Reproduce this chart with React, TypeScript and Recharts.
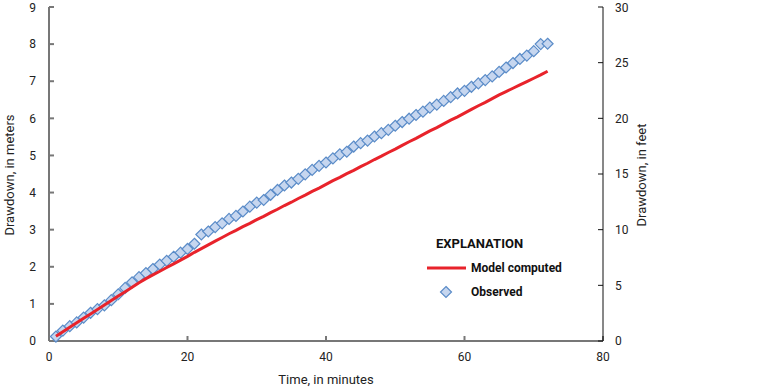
import React from 'react';
import {
  ComposedChart, Line, XAxis, YAxis, Label,
} from 'recharts';

// time, in minutes
const times = [
  1, 2, 3, 4, 5, 6, 7, 8, 9, 10, 11, 12, 13, 14, 15, 16, 17, 18,
  19, 20, 21, 22, 23, 24, 25, 26, 27, 28, 29, 30, 31, 32, 33, 34, 35, 36,
  37, 38, 39, 40, 41, 42, 43, 44, 45, 46, 47, 48, 49, 50, 51, 52, 53, 54,
  55, 56, 57, 58, 59, 60, 61, 62, 63, 64, 65, 66, 67, 68, 69, 70, 71, 72,
];

// observed drawdown, meters
const observed = [
  0.12, 0.28, 0.40, 0.50, 0.63, 0.76, 0.86, 0.96, 1.10, 1.26, 1.43, 1.58, 1.72, 1.83, 1.94, 2.06, 2.16, 2.27,
  2.38, 2.48, 2.62, 2.87, 2.95, 3.07, 3.17, 3.29, 3.37, 3.49, 3.62, 3.73, 3.80, 3.94, 4.07, 4.19, 4.27, 4.37,
  4.49, 4.61, 4.72, 4.81, 4.92, 5.03, 5.10, 5.24, 5.33, 5.40, 5.51, 5.60, 5.69, 5.80, 5.90, 5.99, 6.09, 6.18,
  6.29, 6.37, 6.47, 6.57, 6.67, 6.74, 6.85, 6.94, 7.03, 7.13, 7.25, 7.37, 7.49, 7.60, 7.69, 7.81, 8.00, 8.01,
];

// model computed drawdown, meters
const modelComputed = [
  0.13, 0.25, 0.37, 0.49, 0.61, 0.73, 0.85, 0.97, 1.09, 1.21, 1.33, 1.45, 1.57, 1.68, 1.78, 1.88, 1.98, 2.08,
  2.18, 2.28, 2.39, 2.49, 2.59, 2.69, 2.79, 2.89, 2.98, 3.08, 3.17, 3.27, 3.36, 3.46, 3.55, 3.65, 3.74, 3.84,
  3.93, 4.03, 4.12, 4.22, 4.32, 4.41, 4.51, 4.60, 4.70, 4.79, 4.89, 4.98, 5.08, 5.17, 5.27, 5.37, 5.46, 5.56,
  5.66, 5.75, 5.85, 5.95, 6.04, 6.14, 6.24, 6.34, 6.43, 6.53, 6.63, 6.72, 6.81, 6.90, 6.99, 7.08, 7.17, 7.27,
];

const xTicks = [0, 20, 40, 60, 80];
const meterTicks = [0, 1, 2, 3, 4, 5, 6, 7, 8, 9];
const feetTicks = [0, 5, 10, 15, 20, 25, 30];

const FONT = "'Liberation Sans Narrow', 'Arial Narrow', Roboto, sans-serif";
const RED = '#e8232b';
const FILL = '#c6d6ef';
const EDGE = '#5b8cc8';

const data = times.map((t, i) => ({ t, observed: observed[i], model: modelComputed[i] }));

const Diamond = (props: any) => {
  const { cx, cy, index } = props;
  if (cx == null || cy == null) return null;
  const r = 5.5;
  return (
    <polygon
      key={`d-${index}`}
      points={`${cx},${cy - r} ${cx + r},${cy} ${cx},${cy + r} ${cx - r},${cy}`}
      fill={FILL}
      stroke={EDGE}
      strokeWidth={1.2}
    />
  );
};

const textStyle: any = { fontFamily: FONT, fontSize: 13, fill: '#222' };
const tickStyle: any = { fontFamily: FONT, fontSize: 12, fill: '#222' };

const Explanation = () => (
  <div
    style={{
      position: 'absolute', left: 422, top: 236, width: 160,
      fontFamily: FONT, fontWeight: 'bold', fontSize: 12, color: '#111',
    }}
  >
    <div style={{ marginLeft: 14, marginBottom: 6, fontSize: 13 }}>EXPLANATION</div>
    <div style={{ display: 'flex', alignItems: 'center', height: 22 }}>
      <svg width={49} height={10}><line x1={5} y1={5} x2={44} y2={5} stroke={RED} strokeWidth={3} /></svg>
      <span>Model computed</span>
    </div>
    <div style={{ display: 'flex', alignItems: 'center', height: 26 }}>
      <svg width={49} height={14}>
        <polygon points="24,1.5 29.5,7 24,12.5 18.5,7" fill={FILL} stroke={EDGE} strokeWidth={1.2} />
      </svg>
      <span>Observed</span>
    </div>
  </div>
);

export default function App() {
  return (
    <div style={{ position: 'fixed', left: 0, top: 0, width: 767, height: 389, background: '#fff' }}>
      <ComposedChart
        width={767}
        height={389}
        data={data}
        margin={{ top: 7, right: 114, left: 0, bottom: 18 }}
      >
        <XAxis
          dataKey="t"
          type="number"
          domain={[0, 80]}
          ticks={xTicks}
          tickSize={-5}
          tickMargin={16}
          tick={tickStyle}
          stroke="#777"
          strokeWidth={2}
          height={30}
        >
          <Label
            content={() => (
              <text x={326} y={384} textAnchor="middle" style={textStyle}>
                Time, in minutes
              </text>
            )}
          />
        </XAxis>
        <YAxis
          yAxisId="m"
          domain={[0, 9]}
          ticks={meterTicks}
          tickSize={-5}
          tickMargin={18}
          tick={tickStyle}
          stroke="#777"
          strokeWidth={2}
          width={49}
        >
          <Label
            content={() => (
              <text x={14} y={175} textAnchor="middle" transform="rotate(-90, 14, 175)" style={textStyle}>
                Drawdown, in meters
              </text>
            )}
          />
        </YAxis>
        <YAxis
          yAxisId="ft"
          orientation="right"
          domain={[0, 30]}
          ticks={feetTicks}
          tickSize={-5}
          tickMargin={17}
          tick={tickStyle}
          stroke="#111"
          width={50}
        >
          <Label
            content={() => (
              <text x={646} y={175} textAnchor="middle" transform="rotate(-90, 646, 175)" style={textStyle}>
                Drawdown, in feet
              </text>
            )}
          />
        </YAxis>
        {/* observed: markers only */}
        <Line
          yAxisId="m"
          dataKey="observed"
          stroke="none"
          dot={Diamond}
          activeDot={false}
          isAnimationActive={false}
        />
        {/* invisible series so the feet axis gets its ticks */}
        <Line
          yAxisId="ft"
          dataKey="model"
          stroke="none"
          dot={false}
          activeDot={false}
          isAnimationActive={false}
        />
      </ComposedChart>

      {/* model line drawn on top of the markers, same plot box */}
      <div style={{ position: 'absolute', left: 0, top: 0, pointerEvents: 'none' }}>
        <ComposedChart
          width={767}
          height={389}
          data={data}
          margin={{ top: 7, right: 164, left: 49, bottom: 48 }}
        >
          <XAxis dataKey="t" type="number" domain={[0, 80]} hide />
          <YAxis domain={[0, 9]} hide />
          <Line
            dataKey="model"
            stroke={RED}
            strokeWidth={3}
            dot={false}
            activeDot={false}
            isAnimationActive={false}
          />
        </ComposedChart>
      </div>
      <Explanation />
    </div>
  );
}
